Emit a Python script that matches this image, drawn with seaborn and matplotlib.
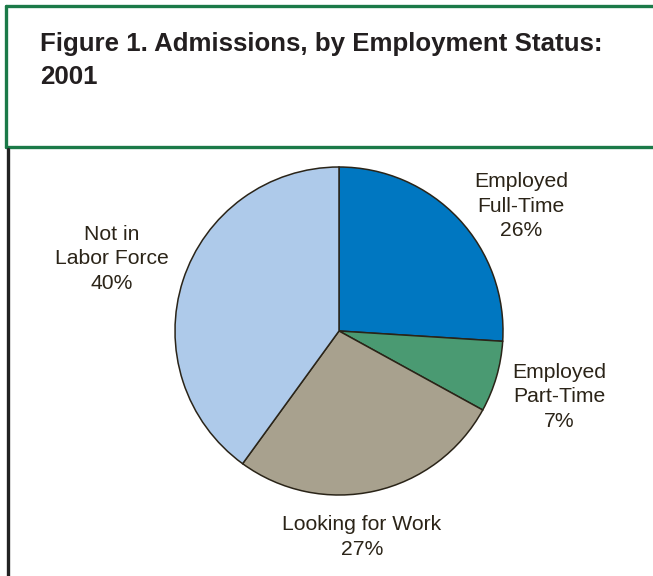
import matplotlib
matplotlib.use("Agg")
import matplotlib.pyplot as plt
from matplotlib.lines import Line2D
import seaborn as sns

# Admissions by employment status, 2001 (percent)
categories = ["Employed\nFull-Time", "Employed\nPart-Time", "Looking for Work", "Not in\nLabor Force"]
shares = [26, 7, 27, 40]
colors = ["#0077C1", "#4A9A72", "#A8A18E", "#AECAEA"]
title_lines = ["Figure 1. Admissions, by Employment Status:", "2001"]

sns.set_theme(style="white")
plt.rcParams["font.family"] = ["Liberation Sans", "DejaVu Sans"]

W, H = 653, 576
fig = plt.figure(figsize=(W / 100, H / 100), dpi=100)
fig.patch.set_facecolor("white")

# Frame: green title box, dark rule down the left side
green = "#1B7A48"
fig.add_artist(Line2D([6 / W, 1.0], [1 - 6 / H, 1 - 6 / H], color=green, lw=2.4, transform=fig.transFigure))
fig.add_artist(Line2D([6 / W, 6 / W], [1 - 6 / H, 1 - 147 / H], color=green, lw=2.4, transform=fig.transFigure))
fig.add_artist(Line2D([6 / W, 1.0], [1 - 147 / H, 1 - 147 / H], color=green, lw=2.4, transform=fig.transFigure))
fig.add_artist(Line2D([7.5 / W, 7.5 / W], [1 - 149 / H, 0], color="#222222", lw=2.4, transform=fig.transFigure))

for line, base in zip(title_lines, [51, 84]):
    fig.text(40 / W, 1 - base / H, line, ha="left", va="baseline", fontsize=18.6,
             fontweight="bold", color="#231F20")

# Pie axes in pixel-like units around the pie centre
cx, cy, half = 339, 331, 260
ax = fig.add_axes([(cx - half) / W, (H - cy - half) / H, 2 * half / W, 2 * half / H])

radius = 164
ax.pie(shares, colors=colors, startangle=90, counterclock=False, radius=radius,
       center=(0, 0), wedgeprops=dict(edgecolor="#2A2418", linewidth=1.1), frame=True)
ax.set_xlim(-half, half)
ax.set_ylim(-half, half)
ax.set_aspect("equal")
ax.axis("off")

label_pos = [(182, 125), (220, -66), (23, -206), (-227, 72)]
for name, val, (x, y) in zip(categories, shares, label_pos):
    ax.text(x, y, f"{name}\n{val}%", ha="center", va="center", fontsize=15.2,
            color="#2B2418", linespacing=1.36)

fig.savefig("out.png", dpi=100)
